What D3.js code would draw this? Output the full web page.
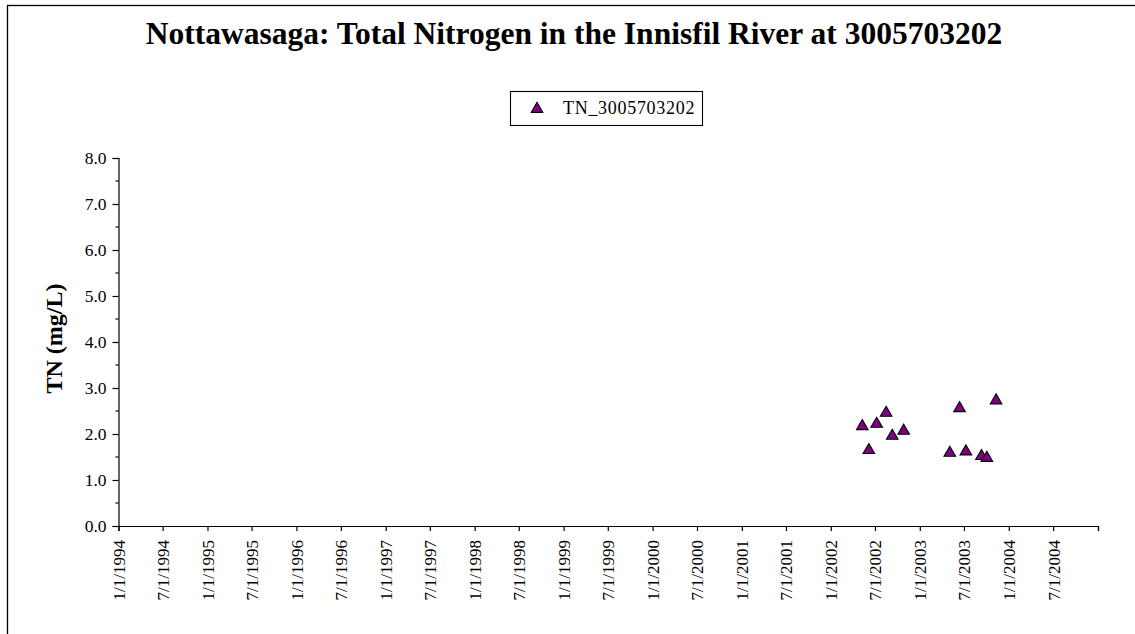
<!DOCTYPE html>
<html>
<head>
<meta charset="utf-8">
<script src="https://cdn.jsdelivr.net/npm/d3@7/dist/d3.min.js"></script>
<style>
  html, body { margin: 0; padding: 0; background: #fff; }
  svg { display: block; font-family: "Liberation Serif", "Times New Roman", serif; }
</style>
</head>
<body>
<svg id="chart" width="1135" height="634"></svg>
<script>
// Sample dates and total nitrogen concentrations (mg/L) at station 3005703202
const sampleDates = [
  "2002-05-10", "2002-06-06", "2002-07-08", "2002-08-16", "2002-09-10", "2002-10-27",
  "2003-05-04", "2003-06-13", "2003-07-09", "2003-09-11", "2003-10-03", "2003-11-10"
];
const tnValues = [2.19, 1.67, 2.24, 2.48, 1.98, 2.09, 1.61, 2.58, 1.64, 1.54, 1.50, 2.75];

const seriesName = "TN_3005703202";
const chartTitle = "Nottawasaga: Total Nitrogen in the Innisfil River at 3005703202";
const yAxisTitle = "TN (mg/L)";
const yTickValues = [0, 1, 2, 3, 4, 5, 6, 7, 8];
const yMinorTicks = [0.5, 1.5, 2.5, 3.5, 4.5, 5.5, 6.5, 7.5];
const xDomain = ["1994-01-01", "2005-01-01"];

const parse = d3.timeParse("%Y-%m-%d");
const fmt = d => `${d.getMonth() + 1}/${d.getDate()}/${d.getFullYear()}`;

const svg = d3.select("#chart");
const W = 1135, H = 634;

svg.append("rect").attr("width", W).attr("height", H).attr("fill", "#fff");
// chart frame
svg.append("rect")
  .attr("x", 7.5).attr("y", 5.5).attr("width", W + 10).attr("height", H + 10)
  .attr("fill", "none").attr("stroke", "#000").attr("stroke-width", 1.3);

const plot = { left: 118.5, right: 1098, top: 158, bottom: 526 };

const x = d3.scaleTime()
  .domain(xDomain.map(parse))
  .range([plot.left, plot.right]);
const y = d3.scaleLinear()
  .domain([0, 8])
  .range([plot.bottom, plot.top]);

// title
svg.append("text")
  .attr("x", 574).attr("y", 44)
  .attr("text-anchor", "middle")
  .attr("font-weight", "bold")
  .attr("font-size", 31.5)
  .text(chartTitle);

// y axis
const yAxis = d3.axisLeft(y)
  .tickValues(yTickValues)
  .tickFormat(d3.format(".1f"))
  .tickSize(6).tickPadding(6);
const gy = svg.append("g")
  .attr("transform", `translate(${plot.left},0)`)
  .call(yAxis);
gy.select(".domain").attr("stroke", "#000").attr("stroke-width", 1.2);
gy.selectAll(".tick line").attr("stroke", "#000").attr("stroke-width", 1.2);
gy.selectAll(".tick text")
  .attr("font-family", "Liberation Serif, Times New Roman, serif")
  .attr("font-size", 17.5).attr("fill", "#000");

gy.selectAll(".minor")
  .data(yMinorTicks).enter()
  .append("line")
  .attr("class", "minor")
  .attr("x1", -3).attr("x2", 0)
  .attr("y1", d => y(d)).attr("y2", d => y(d))
  .attr("stroke", "#000").attr("stroke-width", 1.2);

// x axis: ticks every six months
const xTicks = d3.timeMonth.every(6).range(parse(xDomain[0]), d3.timeDay.offset(parse(xDomain[1]), 1));
const xAxis = d3.axisBottom(x)
  .tickValues(xTicks)
  .tickFormat(d => (+d === +parse(xDomain[1]) ? "" : fmt(d)))
  .tickSize(5).tickPadding(0);
const gx = svg.append("g")
  .attr("transform", `translate(0,${plot.bottom})`)
  .call(xAxis);
gx.select(".domain").attr("stroke", "#000").attr("stroke-width", 1.2);
gx.selectAll(".tick line").attr("stroke", "#000").attr("stroke-width", 1.2);
gx.selectAll(".tick text")
  .attr("font-family", "Liberation Serif, Times New Roman, serif")
  .attr("font-size", 17)
  .attr("fill", "#000")
  .attr("text-anchor", "end")
  .attr("transform", "translate(0,14) rotate(-90)")
  .attr("x", 0).attr("y", 0).attr("dy", "0.35em");

// y axis title
svg.append("text")
  .attr("transform", `translate(62,338.5) rotate(-90)`)
  .attr("text-anchor", "middle")
  .attr("font-weight", "bold")
  .attr("font-size", 24)
  .text(yAxisTitle);

// markers
const tri = d3.symbol().type(d3.symbolTriangle).size(58);
svg.append("g")
  .selectAll("path")
  .data(sampleDates.map((d, i) => ({ date: parse(d), v: tnValues[i] })))
  .enter().append("path")
  .attr("d", tri)
  .attr("transform", d => `translate(${x(d.date)},${y(d.v) + 1})`)
  .attr("fill", "#800080")
  .attr("stroke", "#000")
  .attr("stroke-width", 1.1);

// legend
const lg = svg.append("g");
lg.append("rect")
  .attr("x", 510.5).attr("y", 91.5).attr("width", 192).attr("height", 34)
  .attr("fill", "#fff").attr("stroke", "#000").attr("stroke-width", 1.1);
lg.append("path")
  .attr("d", tri)
  .attr("transform", "translate(537,109)")
  .attr("fill", "#800080").attr("stroke", "#000").attr("stroke-width", 1.1);
lg.append("text")
  .attr("x", 563).attr("y", 113.5)
  .attr("font-size", 18)
  .attr("letter-spacing", 0.7)
  .text(seriesName);
</script>
</body>
</html>
